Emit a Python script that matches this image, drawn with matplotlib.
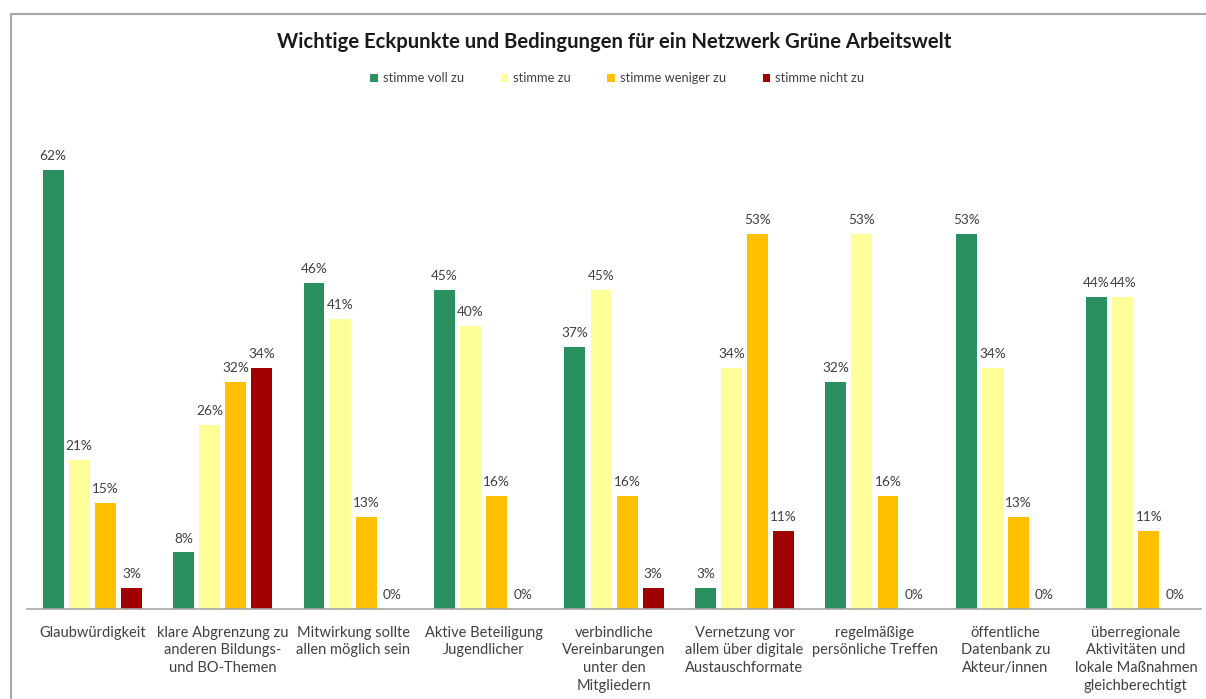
import matplotlib.pyplot as plt
import numpy as np

plt.rcParams['font.family'] = ['Lato', 'DejaVu Sans']

categories = ['Glaubwürdigkeit',
              'klare Abgrenzung zu\nanderen Bildungs-\nund BO-Themen',
              'Mitwirkung sollte\nallen möglich sein',
              'Aktive Beteiligung\nJugendlicher',
              'verbindliche\nVereinbarungen\nunter den\nMitgliedern',
              'Vernetzung vor\nallem über digitale\nAustauschformate',
              'regelmäßige\npersönliche Treffen',
              'öffentliche\nDatenbank zu\nAkteur/innen',
              'überregionale\nAktivitäten und\nlokale Maßnahmen\ngleichberechtigt']

series_names = ['stimme voll zu', 'stimme zu', 'stimme weniger zu', 'stimme nicht zu']
voll_zu = [62, 8, 46, 45, 37, 3, 32, 53, 44]
zu = [21, 26, 41, 40, 45, 34, 53, 34, 44]
weniger_zu = [15, 32, 13, 16, 16, 53, 16, 13, 11]
nicht_zu = [3, 34, 0, 0, 3, 11, 0, 0, 0]

colors = ['#2a9060', '#ffff99', '#ffc000', '#a00000']
text_col = '#404040'

fig = plt.figure(figsize=(12.06, 6.99), dpi=100)
ax = fig.add_axes([0.0224, 0.1288, 0.9735, 0.6709])

x = np.arange(len(categories))
width = 0.16
step = 0.2
for i, (vals, name, col) in enumerate(zip([voll_zu, zu, weniger_zu, nicht_zu], series_names, colors)):
    pos = x + (i - 1.5) * step
    bars = ax.bar(pos, vals, width, color=col, label=name)
    for b, v in zip(bars, vals):
        ax.text(b.get_x() + b.get_width() / 2, v + 1.1, f'{v}%', ha='center', va='bottom',
                fontsize=9.8, color=text_col)

ax.set_xlim(-0.5, len(categories) - 0.5)
ax.set_ylim(0, 66.2)
ax.set_yticks([])
ax.set_xticks([])
for s in ['top', 'right', 'left']:
    ax.spines[s].set_visible(False)
ax.spines['bottom'].set_color('#a6a6a6')
ax.spines['bottom'].set_linewidth(1.2)

# category names under the baseline
for xi, lab in zip(x, categories):
    ax.annotate(lab, (xi, 0), xytext=(0, -12), textcoords='offset points',
                ha='center', va='top', fontsize=10.5, color=text_col, linespacing=1.35)

fig.text(0.509, 0.94, 'Wichtige Eckpunkte und Bedingungen für ein Netzwerk Grüne Arbeitswelt',
         ha='center', va='center', fontsize=14.6, fontweight='bold', color='#1a1a1a')

leg = fig.legend(loc='center', bbox_to_anchor=(0.512, 0.888), ncol=4, frameon=False,
                 fontsize=9.3, handlelength=0.6, handleheight=0.6, handletextpad=0.4,
                 columnspacing=2.8)
for t in leg.get_texts():
    t.set_color(text_col)

# thin frame around the chart area
fig.add_artist(plt.Line2D([11 / 1206, 1], [1 - 14 / 699, 1 - 14 / 699], color='#a6a6a6', lw=1.5))
fig.add_artist(plt.Line2D([11 / 1206, 11 / 1206], [0, 1 - 14 / 699], color='#a6a6a6', lw=1.5))

plt.savefig('out.png', dpi=100)
